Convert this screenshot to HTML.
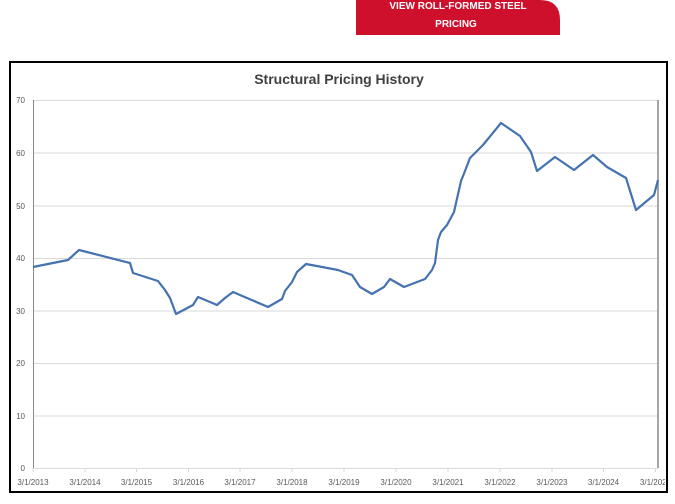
<!DOCTYPE html>
<html><head><style>
body{margin:0;background:#fff;width:675px;height:499px;overflow:hidden;font-family:"Liberation Sans",sans-serif}
</style></head><body>
<svg width="675" height="499" xmlns="http://www.w3.org/2000/svg">
<defs><clipPath id="c"><rect x="0" y="0" width="665" height="499"/></clipPath></defs>
<path d="M356,0 H540 Q560,0 560,20 V35 H356 Z" fill="#cf102d"/>
<text x="458" y="9" fill="#fff" font-size="10" font-weight="bold" text-anchor="middle" font-family="Liberation Sans Narrow, Liberation Sans, sans-serif">VIEW ROLL-FORMED STEEL</text>
<text x="456" y="27" fill="#fff" font-size="10" font-weight="bold" text-anchor="middle" font-family="Liberation Sans Narrow, Liberation Sans, sans-serif">PRICING</text>
<rect x="10" y="62" width="657" height="430" fill="#fff" stroke="#000" stroke-width="2"/>
<text x="339" y="84" font-size="14" font-weight="bold" fill="#404040" text-anchor="middle">Structural Pricing History</text>
<g stroke="#d9d9d9" stroke-width="1">
<line x1="33" x2="658" y1="100.5" y2="100.5"/><line x1="33" x2="658" y1="153" y2="153"/>
<line x1="33" x2="658" y1="206" y2="206"/><line x1="33" x2="658" y1="258.5" y2="258.5"/>
<line x1="33" x2="658" y1="311" y2="311"/><line x1="33" x2="658" y1="363.5" y2="363.5"/>
<line x1="33" x2="658" y1="416" y2="416"/><line x1="33" x2="658" y1="468.5" y2="468.5"/>
<line x1="33" x2="33" y1="468" y2="472"/><line x1="85" x2="85" y1="468" y2="472"/><line x1="136.5" x2="136.5" y1="468" y2="472"/><line x1="188.5" x2="188.5" y1="468" y2="472"/><line x1="240" x2="240" y1="468" y2="472"/><line x1="292" x2="292" y1="468" y2="472"/><line x1="344" x2="344" y1="468" y2="472"/><line x1="396" x2="396" y1="468" y2="472"/><line x1="448" x2="448" y1="468" y2="472"/><line x1="500" x2="500" y1="468" y2="472"/><line x1="552" x2="552" y1="468" y2="472"/><line x1="603.5" x2="603.5" y1="468" y2="472"/><line x1="655.5" x2="655.5" y1="468" y2="472"/>
</g>
<line x1="33.5" x2="33.5" y1="100" y2="468" stroke="#888" stroke-width="1"/>
<line x1="658" x2="658" y1="100" y2="468" stroke="#888" stroke-width="1.5"/>
<g font-size="8" fill="#595959" text-anchor="end">
<text x="25" y="103">70</text><text x="25" y="156">60</text><text x="25" y="209">50</text><text x="25" y="261">40</text><text x="25" y="314">30</text><text x="25" y="366">20</text><text x="25" y="419">10</text><text x="25" y="471">0</text>
</g>
<g font-size="8" fill="#595959" text-anchor="middle" clip-path="url(#c)">
<text x="33" y="485">3/1/2013</text><text x="85" y="485">3/1/2014</text><text x="136.5" y="485">3/1/2015</text><text x="188.5" y="485">3/1/2016</text><text x="240" y="485">3/1/2017</text><text x="292" y="485">3/1/2018</text><text x="344" y="485">3/1/2019</text><text x="396" y="485">3/1/2020</text><text x="448" y="485">3/1/2021</text><text x="500" y="485">3/1/2022</text><text x="552" y="485">3/1/2023</text><text x="603.5" y="485">3/1/2024</text><text x="655.5" y="485">3/1/2025</text>
</g>
<polyline fill="none" stroke="#4572b0" stroke-width="2.2" stroke-linejoin="round" points="33,267 68,260 79,250 130,263 133,273 158,281 165,290 170,298 176,314 193,305 198,297 210,302 217,305 225,298 233,292 268,307 282,299 285,291 292,282 297,272 306,264 338,270 352,275 360,287 372,294 384,287 390,279 404,287 425,279 432,270 435,263 438,240 441,232 447,225 454,212 461,181 465,171 470,158 483,145 501,123 520,136 531,152 537,171 555,157 574,170 593,155 607,167 626,178 636,210 654,195 658,180"/>
</svg>
</body></html>
